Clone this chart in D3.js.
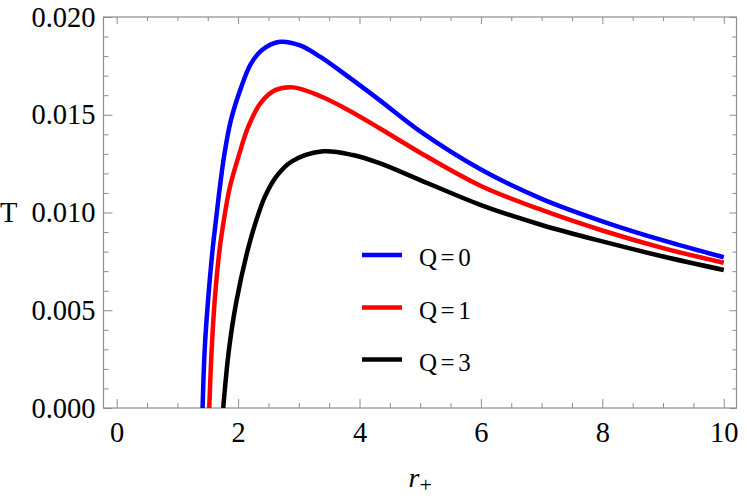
<!DOCTYPE html>
<html>

<head>
  <title>T vs r+</title>
  <script src="https://cdn.jsdelivr.net/npm/d3@7"></script>
  <style>
    body {
      margin: 0;
      background: #ffffff;
    }

    svg {
      display: block;
      font-family: "Liberation Serif", "DejaVu Serif", serif;
    }

    .axis path.domain {
      display: none;
    }

    .axis line {
      stroke: #8c8c8c;
      stroke-width: 1px;
    }

    .axis text {
      fill: #000000;
      font-family: "Liberation Serif", "DejaVu Serif", serif;
      font-size: 28.5px;
    }
  </style>
</head>

<body>
  <script>
    // Werte (r+, T)
    const rQ0 = [1.415, 1.45, 1.505, 1.58, 1.635, 1.70, 1.775, 1.88, 2.05, 2.21, 2.39, 2.69, 3.02, 3.35, 3.79, 4.33, 5.0, 6.0, 7.0, 8.0, 9.0, 10.0];
    const tQ0 = [0, 0.0030, 0.0055, 0.0081, 0.0096, 0.0113, 0.0130, 0.0147, 0.0164, 0.0176, 0.0183, 0.01873, 0.01855, 0.01797, 0.01700, 0.01575, 0.01415, 0.01220, 0.0107, 0.00955, 0.00857, 0.00771];

    const rQ1 = [1.525, 1.565, 1.615, 1.695, 1.765, 1.865, 2.02, 2.17, 2.37, 2.62, 2.91, 3.35, 3.79, 4.33, 5.0, 6.0, 7.0, 8.0, 9.0, 10.0];
    const tQ1 = [0, 0.0030, 0.0055, 0.0081, 0.0096, 0.0113, 0.0130, 0.0144, 0.0156, 0.01627, 0.01640, 0.01596, 0.01528, 0.01431, 0.01306, 0.01136, 0.01013, 0.00908, 0.00818, 0.00743];

    const rQ3 = [1.755, 1.85, 1.975, 2.16, 2.30, 2.44, 2.62, 2.88, 3.40, 3.89, 4.33, 5.0, 6.0, 7.0, 8.0, 9.0, 10.0];
    const tQ3 = [0, 0.0030, 0.0055, 0.0081, 0.0096, 0.0108, 0.0118, 0.0126, 0.01313, 0.01294, 0.01252, 0.01166, 0.01038, 0.00936, 0.00852, 0.00775, 0.00706];

    const seriesNames = ["Q=0", "Q=1", "Q=3"];
    const seriesColors = ["#0000ff", "#ff0000", "#000000"];

    const xTicks = [0, 2, 4, 6, 8, 10];
    const yTicks = [0.000, 0.005, 0.010, 0.015, 0.020];

    // Groesse
    const w = 747;
    const h = 500;
    const plotLeft = 103.5;
    const plotRight = 736.5;
    const plotTop = 17;
    const plotBottom = 408;

    const xScale = d3.scaleLinear()
      .domain([-0.217, 10.21])
      .range([plotLeft, plotRight]);

    const yScale = d3.scaleLinear()
      .domain([0, 0.020])
      .range([plotBottom, plotTop]);

    const svg = d3.select("body")
      .append("svg")
      .attr("width", w)
      .attr("height", h);

    svg.append("clipPath")
      .attr("id", "plotclip")
      .append("rect")
      .attr("x", plotLeft)
      .attr("y", plotTop)
      .attr("width", plotRight - plotLeft)
      .attr("height", plotBottom - plotTop);

    // Kleine Striche
    const xMinor = d3.range(0, 10.01, 0.5).filter(function (v) { return v % 2 !== 0; });
    const yMinor = d3.range(0, 0.0201, 0.001).filter(function (v) {
      return Math.abs(v / 0.005 - Math.round(v / 0.005)) > 0.01;
    });

    // unten
    svg.append("g")
      .attr("class", "axis")
      .attr("transform", "translate(0," + plotBottom + ")")
      .call(d3.axisBottom(xScale).tickValues(xTicks).tickSize(-9).tickPadding(14).tickFormat(d3.format("d")));
    svg.append("g")
      .attr("class", "axis")
      .attr("transform", "translate(0," + plotBottom + ")")
      .call(d3.axisBottom(xScale).tickValues(xMinor).tickSize(-5).tickFormat(""));

    // oben
    svg.append("g")
      .attr("class", "axis")
      .attr("transform", "translate(0," + plotTop + ")")
      .call(d3.axisTop(xScale).tickValues(xTicks).tickSize(-7).tickFormat(""));
    svg.append("g")
      .attr("class", "axis")
      .attr("transform", "translate(0," + plotTop + ")")
      .call(d3.axisTop(xScale).tickValues(xMinor).tickSize(-4).tickFormat(""));

    // links
    svg.append("g")
      .attr("class", "axis")
      .attr("transform", "translate(" + plotLeft + ",0)")
      .call(d3.axisLeft(yScale).tickValues(yTicks).tickSize(-9).tickPadding(8).tickFormat(d3.format(".3f")));
    svg.append("g")
      .attr("class", "axis")
      .attr("transform", "translate(" + plotLeft + ",0)")
      .call(d3.axisLeft(yScale).tickValues(yMinor).tickSize(-5).tickFormat(""));

    // rechts
    svg.append("g")
      .attr("class", "axis")
      .attr("transform", "translate(" + plotRight + ",0)")
      .call(d3.axisRight(yScale).tickValues(yTicks).tickSize(-7).tickFormat(""));
    svg.append("g")
      .attr("class", "axis")
      .attr("transform", "translate(" + plotRight + ",0)")
      .call(d3.axisRight(yScale).tickValues(yMinor).tickSize(-4).tickFormat(""));

    // Rahmen
    svg.append("rect")
      .attr("x", plotLeft)
      .attr("y", plotTop)
      .attr("width", plotRight - plotLeft)
      .attr("height", plotBottom - plotTop)
      .attr("fill", "none")
      .attr("stroke", "#8c8c8c")
      .attr("stroke-width", 1.2);

    // Kurven
    const allSeries = [
      { r: rQ0, t: tQ0 },
      { r: rQ1, t: tQ1 },
      { r: rQ3, t: tQ3 }
    ];

    const line = d3.line()
      .x(function (d) { return xScale(d[0]); })
      .y(function (d) { return yScale(d[1]); })
      .curve(d3.curveCatmullRom.alpha(0.5));

    svg.append("g")
      .attr("clip-path", "url(#plotclip)")
      .selectAll("path.curve")
      .data(allSeries)
      .enter()
      .append("path")
      .attr("class", "curve")
      .attr("fill", "none")
      .attr("stroke", function (d, i) { return seriesColors[i]; })
      .attr("stroke-width", 4.5)
      .attr("d", function (d) {
        return line(d.r.map(function (r, k) { return [r, d.t[k]]; }));
      });

    // Legende
    const legendY = [255, 307.5, 359.5];
    const legend = svg.selectAll("g.legend")
      .data(seriesNames)
      .enter()
      .append("g")
      .attr("class", "legend")
      .attr("transform", function (d, i) { return "translate(362," + legendY[i] + ")"; });

    legend.append("line")
      .attr("x1", 0)
      .attr("x2", 40)
      .attr("stroke", function (d, i) { return seriesColors[i]; })
      .attr("stroke-width", 4.5);

    const legendText = legend.append("text")
      .attr("x", 57)
      .attr("y", 11)
      .attr("font-size", "25px")
      .attr("fill", "#000");
    legendText.append("tspan").text("Q");
    legendText.append("tspan").attr("dx", 3.5).text("=");
    legendText.append("tspan").attr("dx", 3.5).text(function (d) { return d.split("=")[1]; });

    // Achsentitel
    svg.append("text")
      .attr("x", 0)
      .attr("y", yScale(0.010))
      .attr("dy", "0.32em")
      .attr("text-anchor", "start")
      .attr("font-size", "28.5px")
      .text("T");

    const xLabel = svg.append("text")
      .attr("x", (xScale(0) + xScale(10)) / 2)
      .attr("y", 487)
      .attr("text-anchor", "middle")
      .attr("font-size", "28px");
    xLabel.append("tspan").attr("font-style", "italic").text("r");
    xLabel.append("tspan").attr("dy", 5).attr("font-size", "22px").text("+");
  </script>
</body>

</html>
